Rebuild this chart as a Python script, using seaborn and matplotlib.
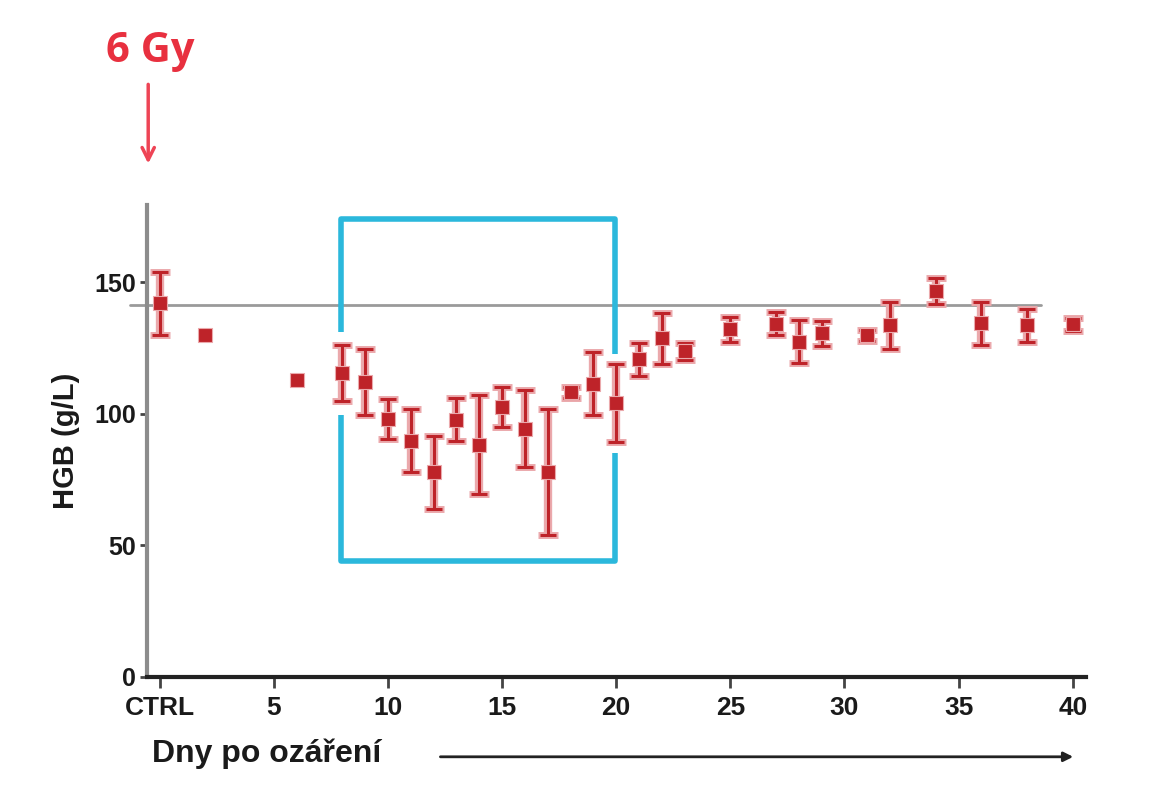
import numpy as np
import pandas as pd
import matplotlib
matplotlib.use("Agg")
import matplotlib.pyplot as plt
import seaborn as sns

# HGB values (day 0 = CTRL)
days = [0, 2, 6, 8, 9, 10, 11, 12, 13, 14, 15, 16, 17, 18, 19, 20,
        21, 22, 23, 25, 27, 28, 29, 31, 32, 34, 36, 38, 40]
hgb = [142, 130, 113, 115.6, 112.2, 98.1, 89.8, 77.8, 97.8, 88.3, 102.7, 94.4, 77.8, 108.2, 111.4, 104.1,
       120.7, 128.7, 123.8, 132.1, 134.2, 127.5, 130.6, 129.8, 133.7, 146.7, 134.4, 133.7, 134]
sd = [12, 0, 0, 10.6, 12.6, 7.5, 12, 13.8, 8.3, 18.8, 7.7, 14.8, 24, 2, 12, 14.8,
      6.4, 9.7, 3.3, 4.8, 4.4, 8.3, 4.8, 2, 9, 5, 8.3, 6.2, 2.5]
ctrl_level = 141.5

xtick_pos = [0, 5, 10, 15, 20, 25, 30, 35, 40]
xtick_labels = ["CTRL", "5", "10", "15", "20", "25", "30", "35", "40"]
ytick_pos = [0, 50, 100, 150]

df = pd.DataFrame({"day": days, "hgb": hgb, "sd": sd})
df_err = df[df["sd"] > 0]

sns.set_style("white")
plt.rcParams['font.family'] = ['Liberation Sans', 'DejaVu Sans']

fig = plt.figure(figsize=(11.67, 8), dpi=100)
ax = fig.add_axes([0.126, 0.154, 0.805, 0.590])

red = "#BE2329"
halo = "#EBA9AC"
# light halo under the error bars, then the dark bars
ax.errorbar(df_err["day"], df_err["hgb"], yerr=df_err["sd"], fmt="none", ecolor=halo,
            elinewidth=6, capsize=7, capthick=5, zorder=2)
ax.errorbar(df_err["day"], df_err["hgb"], yerr=df_err["sd"], fmt="none", ecolor=red,
            elinewidth=2.2, capsize=6, capthick=2.2, zorder=3)
sns.scatterplot(data=df, x="day", y="hgb", ax=ax, color=red, s=110, marker="s",
                edgecolor=halo, linewidth=0.8, zorder=4, legend=False)

# control reference line
ax.plot([-1.3, 38.6], [ctrl_level, ctrl_level], color="#9a9a9a", lw=2, zorder=1, clip_on=False)

# highlight box (with gaps where it meets the error bars)
cyan = "#2BB8DC"
box_kw = dict(color=cyan, lw=4, solid_capstyle="butt", zorder=1)
ax.plot([7.96, 7.96, 19.93, 19.93], [131, 174, 174, 122.6], **box_kw)
ax.plot([7.96, 7.96, 19.93, 19.93], [99.5, 44.2, 44.2, 85], **box_kw)

ax.set_xlim(-0.55, 40.6)
ax.set_ylim(0, 179.5)
ax.set_xticks(xtick_pos)
ax.set_xticklabels(xtick_labels, fontsize=19, fontweight="bold", color="#1a1a1a")
ax.set_yticks(ytick_pos)
ax.set_yticklabels([str(v) for v in ytick_pos], fontsize=18, fontweight="bold", color="#1a1a1a")
ax.set_xlabel("")
ax.set_ylabel("HGB (g/L)", fontsize=21, fontweight="bold", labelpad=10, color="#1a1a1a")

for s in ["top", "right"]:
    ax.spines[s].set_visible(False)
ax.spines["left"].set_color("#8c8c8c")
ax.spines["left"].set_linewidth(3)
ax.spines["bottom"].set_color("#222222")
ax.spines["bottom"].set_linewidth(3)
ax.tick_params(axis="x", direction="out", length=8, width=2, color="#444444", pad=6)
ax.tick_params(axis="y", direction="out", length=5, width=2, color="#444444", pad=3)
ax.tick_params(bottom=True, left=True)

# bottom label with arrow
fig.text(0.13, 0.058, "Dny po ozáření", fontsize=23, fontweight="bold", va="center", ha="left",
         color="#1a1a1a")
fig.add_artist(matplotlib.patches.FancyArrowPatch((0.375, 0.054), (0.922, 0.054),
               transform=fig.transFigure, arrowstyle="-|>", mutation_scale=14,
               color="#222222", lw=2))

# irradiation marker
fig.text(0.129, 0.935, "6 Gy", fontsize=30, fontweight="bold", color="#E8303F",
         ha="center", va="center", family=['Open Sans', 'DejaVu Sans'])
fig.add_artist(matplotlib.patches.FancyArrowPatch((0.127, 0.898), (0.127, 0.792),
               transform=fig.transFigure, arrowstyle="->", mutation_scale=22,
               color="#EE4455", lw=2.5))

fig.savefig("out.png", dpi=100)
